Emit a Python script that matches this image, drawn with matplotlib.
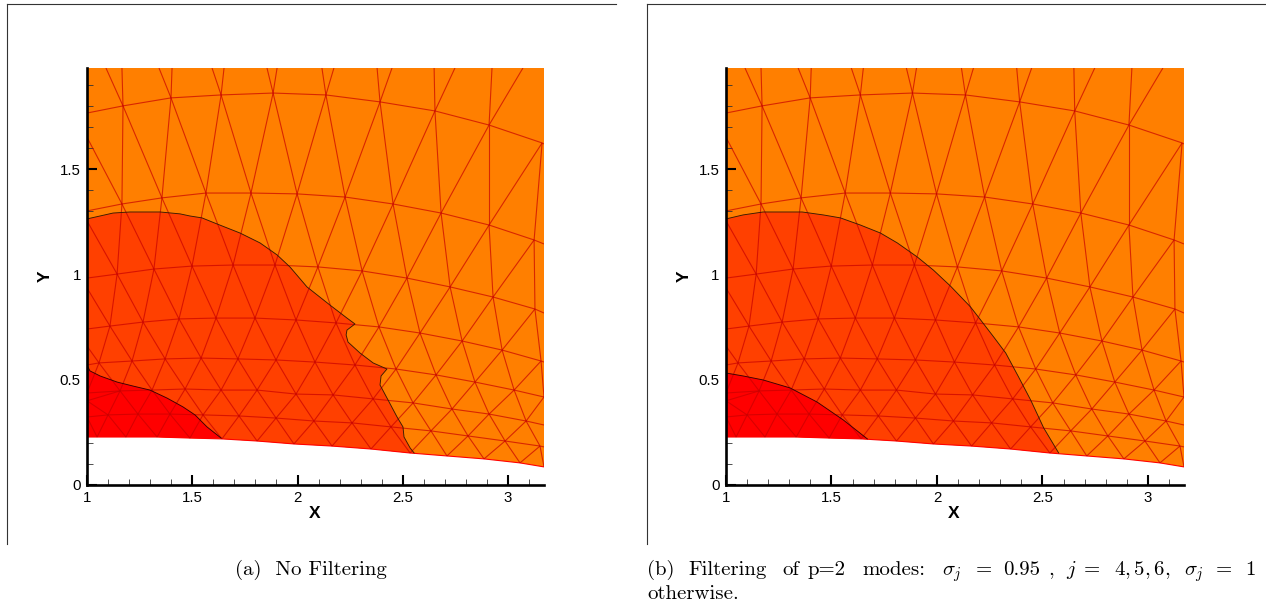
import matplotlib
matplotlib.use("Agg")
import matplotlib.pyplot as plt
from matplotlib.lines import Line2D
import numpy as np

plt.rcParams['mathtext.fontset'] = 'cm'
plt.rcParams['axes.formatter.use_mathtext'] = True

# mesh rows, top to bottom
row6_x = [1.000, 1.171, 1.399, 1.637, 1.884, 2.135, 2.392, 2.653, 2.910, 3.162, 3.171]
row6_y = [1.767, 1.801, 1.839, 1.853, 1.862, 1.853, 1.820, 1.777, 1.710, 1.625, 1.620]
row5_x = [1.000, 1.166, 1.356, 1.565, 1.779, 1.998, 2.226, 2.454, 2.682, 2.910, 3.124, 3.171]
row5_y = [1.302, 1.335, 1.364, 1.387, 1.387, 1.383, 1.368, 1.335, 1.292, 1.235, 1.164, 1.145]
row4_x = [1.000, 1.143, 1.318, 1.499, 1.694, 1.893, 2.097, 2.307, 2.520, 2.725, 2.929, 3.128, 3.171]
row4_y = [0.983, 1.002, 1.026, 1.040, 1.045, 1.045, 1.036, 1.017, 0.983, 0.941, 0.893, 0.836, 0.817]
row3_x = [1.000, 1.109, 1.266, 1.437, 1.613, 1.798, 1.993, 2.183, 2.387, 2.582, 2.782, 2.972, 3.157, 3.171]
row3_y = [0.741, 0.755, 0.774, 0.789, 0.793, 0.793, 0.784, 0.770, 0.751, 0.722, 0.684, 0.641, 0.589, 0.584]
row2_x = [1.000, 1.057, 1.214, 1.371, 1.542, 1.717, 1.898, 2.083, 2.273, 2.468, 2.658, 2.843, 3.029, 3.171]
row2_y = [0.570, 0.580, 0.589, 0.599, 0.603, 0.599, 0.594, 0.584, 0.570, 0.551, 0.523, 0.489, 0.451, 0.418]
row1_x = [1.000, 1.157, 1.309, 1.466, 1.637, 1.808, 1.993, 2.169, 2.359, 2.549, 2.734, 2.910, 3.086, 3.171]
row1_y = [0.437, 0.447, 0.451, 0.456, 0.451, 0.451, 0.432, 0.428, 0.409, 0.390, 0.361, 0.337, 0.304, 0.285]
row0_x = [1.000, 1.100, 1.242, 1.394, 1.551, 1.722, 1.898, 2.078, 2.259, 2.444, 2.634, 2.810, 2.986, 3.152, 3.171]
row0_y = [0.323, 0.333, 0.337, 0.337, 0.333, 0.328, 0.318, 0.304, 0.295, 0.276, 0.257, 0.233, 0.209, 0.185, 0.181]
wall_x = [1.000, 1.048, 1.185, 1.333, 1.489, 1.641, 1.808, 1.983, 2.164, 2.349, 2.535, 2.710, 2.886, 3.057, 3.171]
wall_y = [0.228, 0.228, 0.228, 0.228, 0.223, 0.219, 0.209, 0.195, 0.185, 0.171, 0.152, 0.138, 0.124, 0.105, 0.086]

# where mesh edges from row 6 leave through the top of the plot
top_left_x = [1.090, 1.342, 1.594, 1.855, 2.116, 2.378, 2.649, 2.924]
top_right_x = [1.166, 1.404, 1.651, 1.903, 2.173, 2.449, 2.748, 3.071]

# edges coming in from the left boundary of the plot
left_edge_y = [1.652, 1.255, 0.936, 0.660, 0.400]

# contour lines of panel (a)
a_outer_x = [1.000, 1.062, 1.124, 1.204, 1.347, 1.442, 1.489, 1.546, 1.618, 1.727, 1.822, 1.903, 1.964, 2.045, 2.154, 2.235,
             2.273, 2.235, 2.231, 2.240, 2.297, 2.359, 2.425, 2.397, 2.392, 2.430, 2.473, 2.501, 2.506, 2.535, 2.554]
a_outer_y = [1.264, 1.278, 1.292, 1.297, 1.297, 1.288, 1.278, 1.269, 1.240, 1.197, 1.150, 1.093, 1.036, 0.941, 0.855, 0.793,
             0.765, 0.736, 0.713, 0.679, 0.627, 0.580, 0.551, 0.518, 0.475, 0.404, 0.323, 0.276, 0.228, 0.176, 0.152]
a_inner_x = [1.000, 1.014, 1.062, 1.143, 1.219, 1.299, 1.380, 1.456, 1.513, 1.570, 1.637]
a_inner_y = [0.570, 0.542, 0.518, 0.489, 0.470, 0.451, 0.413, 0.371, 0.333, 0.276, 0.223]

# contour lines of panel (b)
b_outer_x = [1.000, 1.081, 1.176, 1.361, 1.461, 1.542, 1.637, 1.732, 1.812, 1.907, 1.983, 2.064, 2.159, 2.207, 2.269, 2.326,
             2.387, 2.444, 2.506, 2.577]
b_outer_y = [1.264, 1.283, 1.297, 1.297, 1.283, 1.269, 1.235, 1.197, 1.150, 1.083, 1.021, 0.945, 0.846, 0.784, 0.703, 0.627,
             0.513, 0.404, 0.271, 0.152]
b_inner_x = [1.000, 1.081, 1.176, 1.304, 1.432, 1.556, 1.670]
b_inner_y = [0.532, 0.518, 0.499, 0.461, 0.394, 0.309, 0.219]

x_ticks = [1, 1.5, 2, 2.5, 3]
x_tick_labels = ["1", "1.5", "2", "2.5", "3"]
y_ticks = [0, 0.5, 1, 1.5]
y_tick_labels = ["0", "0.5", "1", "1.5"]
x_min, x_max = 1, 3.171
y_min, y_max = 0, 1.981

ORANGE = "#ff7f00"
DARK = "#ff4000"
RED = "#ff0000"
MESH = "#c80000"


def fill_under(ax, cx, cy, color, z):
  # region between a contour and the wall
  wx = np.array(wall_x)
  wy = np.array(wall_y)
  keep = wx < cx[-1]
  ax.fill(list(cx) + list(wx[keep][::-1]), list(cy) + list(wy[keep][::-1]), color=color, lw=0, zorder=z)


def draw_mesh(ax):
  rows = [(row6_x, row6_y), (row5_x, row5_y), (row4_x, row4_y), (row3_x, row3_y),
          (row2_x, row2_y), (row1_x, row1_y), (row0_x, row0_y), (wall_x, wall_y)]
  shifts = [0, 0, 0, 0, -1, 0, 0]
  kw = dict(color=MESH, alpha=0.7, lw=0.8, zorder=3, solid_capstyle="butt")
  for x, y in rows[:-1]:
    ax.plot(x, y, **kw)
  ax.plot(wall_x, wall_y, color=RED, lw=0.8, zorder=3)
  for k, shift in enumerate(shifts):
    ux, uy = rows[k]
    lx, ly = rows[k + 1]
    for i in range(1, len(ux)):
      for j in (i + shift, i + shift + 1):
        if j < len(lx) and ux[i] < 3.165:
          ax.plot([ux[i], lx[j]], [uy[i], ly[j]], **kw)
      if shift == -1 and i == len(ux) - 1:
        ax.plot([ux[i], lx[i - 1]], [uy[i], ly[i - 1]], **kw)
  for i in range(len(top_left_x)):
    ax.plot([row6_x[i + 1], top_left_x[i]], [row6_y[i + 1], y_max], **kw)
    ax.plot([row6_x[i + 1], top_right_x[i]], [row6_y[i + 1], y_max], **kw)
  for k, y in enumerate(left_edge_y):
    lx, ly = rows[k + 1]
    ax.plot([1.0, lx[1]], [y, ly[1]], **kw)
  ax.plot([1.0, row0_x[1]], [0.400, row0_y[1]], **kw)
  ax.plot([1.0, wall_x[1]], [0.323, wall_y[1]], **kw)


def draw_panel(ax, outer_x, outer_y, inner_x, inner_y):
  ax.fill([wall_x[0]] + wall_x + [x_max, 1.0], [y_max] + wall_y + [y_max, y_max], color=ORANGE, lw=0, zorder=1)
  fill_under(ax, outer_x, outer_y, DARK, 2)
  fill_under(ax, inner_x, inner_y, RED, 2.5)
  draw_mesh(ax)
  ax.plot(outer_x, outer_y, color="#3a1c00", lw=0.65, zorder=4)
  ax.plot(inner_x, inner_y, color="#3a0000", lw=0.65, zorder=4)

  ax.set_xlim(x_min, x_max)
  ax.set_ylim(y_min, y_max)
  ax.set_xticks(x_ticks, x_tick_labels)
  ax.set_yticks(y_ticks, y_tick_labels)
  ax.set_xticks(np.arange(1, 3.15, 0.1), minor=True)
  ax.set_yticks(np.arange(0, 1.95, 0.1), minor=True)
  ax.tick_params(which="major", direction="in", length=7.4, width=1.5, labelsize=10.8, pad=4.5)
  ax.tick_params(which="minor", direction="in", length=4.3, width=0.6, color="#333333")
  for lab in ax.get_xticklabels() + ax.get_yticklabels():
    lab.set_family("Liberation Sans")
  for side in ["top", "right"]:
    ax.spines[side].set_visible(False)
  for side in ["left", "bottom"]:
    ax.spines[side].set_linewidth(1.9)
    ax.spines[side].set_zorder(6)
  ax.set_xlabel("X", family="Liberation Sans", weight="bold", fontsize=12.5)
  ax.set_ylabel("Y", family="Liberation Sans", weight="bold", fontsize=12.5)
  ax.xaxis.set_label_coords(0.498, -0.051)
  ax.yaxis.set_label_coords(-0.074, 0.5)


W, H = 1266, 608
fig = plt.figure(figsize=(W / 100, H / 100), dpi=100)
ax_a = fig.add_axes([87 / W, (H - 485) / H, 457 / W, 417 / H])
ax_b = fig.add_axes([726 / W, (H - 485) / H, 458 / W, 417 / H])
draw_panel(ax_a, a_outer_x, a_outer_y, a_inner_x, a_inner_y)
draw_panel(ax_b, b_outer_x, b_outer_y, b_inner_x, b_inner_y)

# page frame lines around the two images
for x0, x1 in [(7.5, 616), (646.5, 1266)]:
  fig.add_artist(Line2D([x0 / W, x1 / W], [1 - 3.5 / H, 1 - 3.5 / H], color="#333333", lw=0.8))
  fig.add_artist(Line2D([x0 / W, x0 / W], [1 - 3.5 / H, 1 - 544 / H], color="#333333", lw=0.8))

# captions
CAP = 15
fig.text(311 / W, 1 - 575 / H, "(a)  No Filtering", family="cmr10", fontsize=CAP, ha="center", va="baseline")
line_b = [(647, "(b)"), (688, "Filtering"), (782, "of"), (808, "p=2"), (862, "modes:"),
          (942, r"$\sigma_j$"), (976, "="), (1003, "0.95"), (1048, ","), (1066, r"$j$"), (1084, "="),
          (1114, r"$4,5,6,$"), (1184, r"$\sigma_j$"), (1216, "="), (1245, "1")]
for px, s in line_b:
  fig.text(px / W, 1 - 575 / H, s, family="cmr10", fontsize=CAP, ha="left", va="baseline")
fig.text(647 / W, 1 - 599 / H, "otherwise.", family="cmr10", fontsize=CAP, ha="left", va="baseline")

fig.savefig("out.png", dpi=100)
